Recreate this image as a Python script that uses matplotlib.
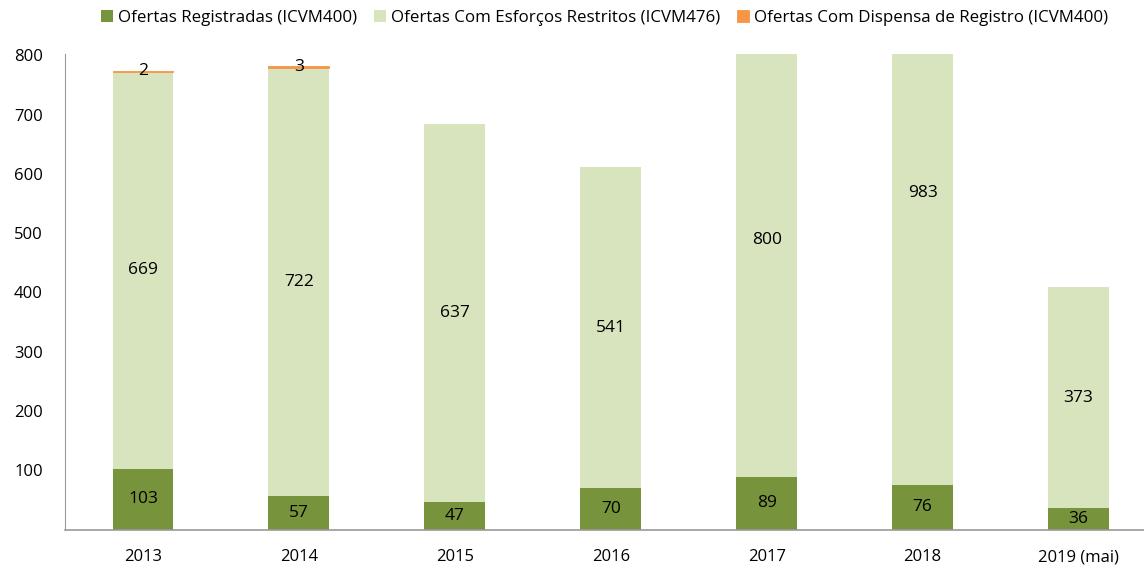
import numpy as np
import matplotlib
matplotlib.use('Agg')
import matplotlib.pyplot as plt

years = ['2013', '2014', '2015', '2016', '2017', '2018', '2019 (mai)']
registradas = [103, 57, 47, 70, 89, 76, 36]
restritos = [669, 722, 637, 541, 800, 983, 373]
dispensa = [2, 3, 0, 0, 0, 0, 0]

c_reg = '#77933C'
c_res = '#D7E4BD'
c_disp = '#F79646'

plt.rcParams['font.family'] = ['Open Sans', 'DejaVu Sans']

fig = plt.figure(figsize=(11.44, 5.69), dpi=100)
ax = fig.add_axes([0.0568, 0.069, 0.9432, 0.836])

x = np.arange(len(years))
w = 0.39
reg = np.array(registradas)
res = np.array(restritos)
dis = np.array(dispensa)

ax.bar(x, reg, w, color=c_reg, label='Ofertas Registradas (ICVM400)')
ax.bar(x, res, w, bottom=reg, color=c_res, label='Ofertas Com Esforços Restritos (ICVM476)')
# thin orange caps only where there is something
lw = [0.6 if d > 0 else 0 for d in dis]
ax.bar(x, dis, w, bottom=reg + res, color=c_disp, edgecolor=c_disp, linewidth=lw,
       label='Ofertas Com Dispensa de Registro (ICVM400)')

fs = 12.5
for i in range(len(years)):
    ax.text(x[i], reg[i] / 2, str(reg[i]), ha='center', va='center', fontsize=fs, color='black')
    ax.text(x[i], reg[i] + res[i] / 2, str(res[i]), ha='center', va='center', fontsize=fs, color='black')
    if dis[i] > 0:
        ax.text(x[i], reg[i] + res[i] + dis[i] / 2, str(dis[i]), ha='center', va='center', fontsize=fs, color='black')

ax.set_ylim(0, 802)
ax.set_xlim(-0.5, 6.42)
ax.set_yticks([100, 200, 300, 400, 500, 600, 700, 800])
ax.set_xticks(x)
ax.set_xticklabels(years)
ax.tick_params(axis='y', length=0, pad=16, labelsize=12)
ax.tick_params(axis='x', length=0, pad=14, labelsize=12)

for s in ['top', 'right']:
    ax.spines[s].set_visible(False)
ax.spines['left'].set_color('#9a9a9a')
ax.spines['bottom'].set_color('#9a9a9a')
ax.spines['bottom'].set_linewidth(1.2)

leg = ax.legend(loc='lower center', bbox_to_anchor=(0.5, 1.045), ncol=3, frameon=False,
                fontsize=12.2, handlelength=0.7, handleheight=0.7, handletextpad=0.3,
                columnspacing=1.0, borderaxespad=0)

fig.savefig('out.png', dpi=100)
